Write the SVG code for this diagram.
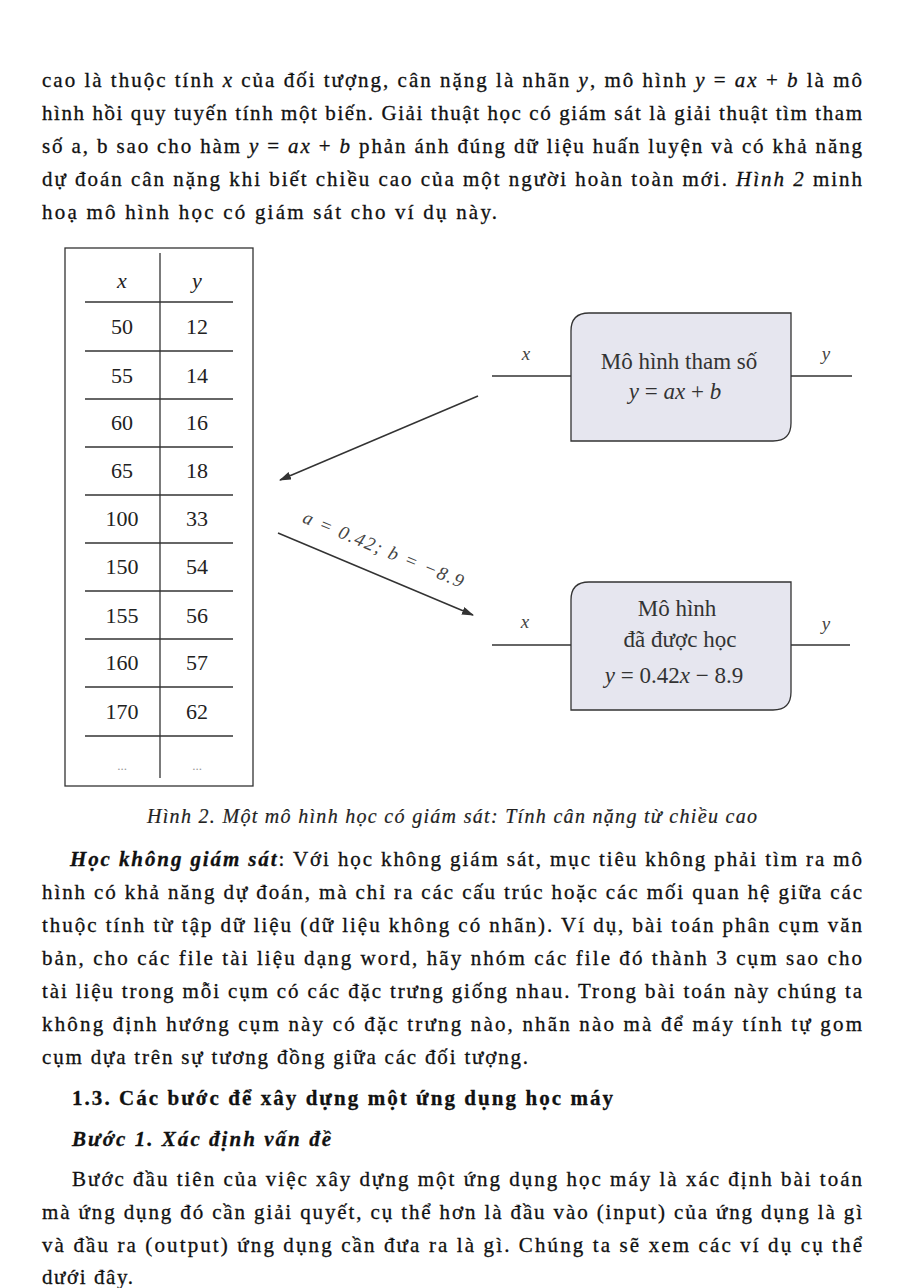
<svg xmlns="http://www.w3.org/2000/svg" width="904" height="1288" viewBox="0 0 904 1288">
<defs>
<marker id="ah" viewBox="0 0 12 8" refX="11" refY="4" markerWidth="12" markerHeight="8" markerUnits="userSpaceOnUse" orient="auto">
<path d="M0,0 L12,4 L0,8 Z" fill="#333"/>
</marker>
<style>
.body{font-family:"Liberation Serif","Times New Roman",serif;font-size:21px;fill:#111;stroke:#111;stroke-width:0.3px}
.it{font-style:italic}
.b{font-weight:bold}
.cap{font-family:"Liberation Serif","Times New Roman",serif;font-size:20px;font-style:italic;fill:#222;stroke:#222;stroke-width:0.2px}
.cell{font-family:"Liberation Serif","Times New Roman",serif;font-size:22px;fill:#222;text-anchor:middle}
.dots{font-family:"Liberation Serif",serif;font-size:13px;fill:#999;text-anchor:middle}
.lbl{font-family:"Liberation Serif","Times New Roman",serif;font-size:19px;font-style:italic;fill:#444;text-anchor:middle}
.box{fill:#e6e6ef;stroke:#333;stroke-width:1.3}
.nt{font-family:"Liberation Serif","Times New Roman",serif;font-size:23px;fill:#333;text-anchor:middle}
.tl{stroke:#333;stroke-width:1.3;fill:none}
.conn{stroke:#333;stroke-width:1.5;fill:none}
.wire{stroke:#333;stroke-width:1.3;fill:none}
</style>
</defs>
<rect width="904" height="1288" fill="#fff"/>

<g id="text-top">
<text class="body" x="42" y="87" textLength="820" lengthAdjust="spacing">cao là thuộc tính <tspan class="it">x</tspan> của đối tượng, cân nặng là nhãn <tspan class="it">y</tspan>, mô hình <tspan class="it">y</tspan> = <tspan class="it">ax</tspan> + <tspan class="it">b</tspan> là mô</text>
<text class="body" x="42" y="120" textLength="820" lengthAdjust="spacing">hình hồi quy tuyến tính một biến. Giải thuật học có giám sát là giải thuật tìm tham</text>
<text class="body" x="42" y="153" textLength="820" lengthAdjust="spacing">số a, b sao cho hàm <tspan class="it">y</tspan> = <tspan class="it">ax</tspan> + <tspan class="it">b</tspan> phản ánh đúng dữ liệu huấn luyện và có khả năng</text>
<text class="body" x="42" y="186" textLength="820" lengthAdjust="spacing">dự đoán cân nặng khi biết chiều cao của một người hoàn toàn mới. <tspan class="it">Hình 2</tspan> minh</text>
<text class="body" x="42" y="219" textLength="455" lengthAdjust="spacing">hoạ mô hình học có giám sát cho ví dụ này.</text>
</g>

<g id="data-table">
<rect x="65" y="248" width="188" height="538" class="tl"/>
<line x1="160" y1="253" x2="160" y2="778" class="tl"/>
<g class="tl">
<line x1="85" y1="302" x2="233" y2="302"/>
<line x1="85" y1="351" x2="233" y2="351"/>
<line x1="85" y1="399" x2="233" y2="399"/>
<line x1="85" y1="447" x2="233" y2="447"/>
<line x1="85" y1="495" x2="233" y2="495"/>
<line x1="85" y1="543" x2="233" y2="543"/>
<line x1="85" y1="591" x2="233" y2="591"/>
<line x1="85" y1="639" x2="233" y2="639"/>
<line x1="85" y1="687" x2="233" y2="687"/>
<line x1="85" y1="736" x2="233" y2="736"/>
</g>
<text class="cell it" x="122" y="288">x</text>
<text class="cell it" x="197" y="288" fill="#666">y</text>
<text class="cell" x="122" y="334">50</text><text class="cell" x="197" y="334">12</text>
<text class="cell" x="122" y="383">55</text><text class="cell" x="197" y="383">14</text>
<text class="cell" x="122" y="430">60</text><text class="cell" x="197" y="430">16</text>
<text class="cell" x="122" y="478">65</text><text class="cell" x="197" y="478">18</text>
<text class="cell" x="122" y="526">100</text><text class="cell" x="197" y="526">33</text>
<text class="cell" x="122" y="574">150</text><text class="cell" x="197" y="574">54</text>
<text class="cell" x="122" y="623">155</text><text class="cell" x="197" y="623">56</text>
<text class="cell" x="122" y="670">160</text><text class="cell" x="197" y="670">57</text>
<text class="cell" x="122" y="719">170</text><text class="cell" x="197" y="719">62</text>
<text class="dots" x="122" y="770">...</text><text class="dots" x="197" y="770">...</text>
</g>

<g id="param-model">
<path class="box" d="M571,441 L571,331 Q571,313 589,313 L791,313 L791,423 Q791,441 773,441 Z"/>
<text class="nt" x="679" y="369">Mô hình tham số</text>
<text class="nt" x="675" y="399"><tspan class="it">y</tspan> = <tspan class="it">ax</tspan> + <tspan class="it">b</tspan></text>
</g>

<g id="learned-model">
<path class="box" d="M571,710 L571,600 Q571,582 589,582 L791,582 L791,692 Q791,710 773,710 Z"/>
<text class="nt" x="677" y="616">Mô hình</text>
<text class="nt" x="680" y="647">đã được học</text>
<text class="nt" x="674" y="683"><tspan class="it">y</tspan> = 0.42<tspan class="it">x</tspan> − 8.9</text>
</g>

<g id="connectors">
<line class="wire" x1="492" y1="376" x2="571" y2="376"/>
<line class="wire" x1="791" y1="376" x2="852" y2="376"/>
<line class="wire" x1="492" y1="645" x2="571" y2="645"/>
<line class="wire" x1="791" y1="645" x2="850" y2="645"/>
<text class="lbl" x="526" y="360">x</text>
<text class="lbl" x="826" y="360">y</text>
<text class="lbl" x="525" y="628">x</text>
<text class="lbl" x="826" y="630">y</text>
<line class="conn" x1="478" y1="396" x2="280" y2="480" marker-end="url(#ah)"/>
<line class="conn" x1="278" y1="533" x2="473" y2="615" marker-end="url(#ah)"/>
<text class="lbl" transform="translate(381,555) rotate(22.5)" x="0" y="0" font-size="20" textLength="172" lengthAdjust="spacing" fill="#555"><tspan class="it">a</tspan> = 0.42; <tspan class="it">b</tspan> = −8.9</text>
</g>

<g id="text-bottom">
<text class="cap" x="147" y="823" textLength="610" lengthAdjust="spacing">Hình 2. Một mô hình học có giám sát: Tính cân nặng từ chiều cao</text>
<text class="body" x="70" y="866" textLength="792" lengthAdjust="spacing"><tspan class="b it">Học không giám sát</tspan>: Với học không giám sát, mục tiêu không phải tìm ra mô</text>
<text class="body" x="42" y="899" textLength="820" lengthAdjust="spacing">hình có khả năng dự đoán, mà chỉ ra các cấu trúc hoặc các mối quan hệ giữa các</text>
<text class="body" x="42" y="932" textLength="820" lengthAdjust="spacing">thuộc tính từ tập dữ liệu (dữ liệu không có nhãn). Ví dụ, bài toán phân cụm văn</text>
<text class="body" x="42" y="965" textLength="820" lengthAdjust="spacing">bản, cho các file tài liệu dạng word, hãy nhóm các file đó thành 3 cụm sao cho</text>
<text class="body" x="42" y="998" textLength="820" lengthAdjust="spacing">tài liệu trong mỗi cụm có các đặc trưng giống nhau. Trong bài toán này chúng ta</text>
<text class="body" x="42" y="1031" textLength="820" lengthAdjust="spacing">không định hướng cụm này có đặc trưng nào, nhãn nào mà để máy tính tự gom</text>
<text class="body" x="42" y="1064" textLength="486" lengthAdjust="spacing">cụm dựa trên sự tương đồng giữa các đối tượng.</text>
<text class="body b" x="72" y="1105" textLength="541" lengthAdjust="spacing">1.3. Các bước để xây dựng một ứng dụng học máy</text>
<text class="body b it" x="72" y="1146" textLength="259" lengthAdjust="spacing">Bước 1. Xác định vấn đề</text>
<text class="body" x="72" y="1186" textLength="790" lengthAdjust="spacing">Bước đầu tiên của việc xây dựng một ứng dụng học máy là xác định bài toán</text>
<text class="body" x="42" y="1219" textLength="820" lengthAdjust="spacing">mà ứng dụng đó cần giải quyết, cụ thể hơn là đầu vào (input) của ứng dụng là gì</text>
<text class="body" x="42" y="1252" textLength="820" lengthAdjust="spacing">và đầu ra (output) ứng dụng cần đưa ra là gì. Chúng ta sẽ xem các ví dụ cụ thể</text>
<text class="body" x="42" y="1284" textLength="91" lengthAdjust="spacing">dưới đây.</text>
</g>
</svg>
